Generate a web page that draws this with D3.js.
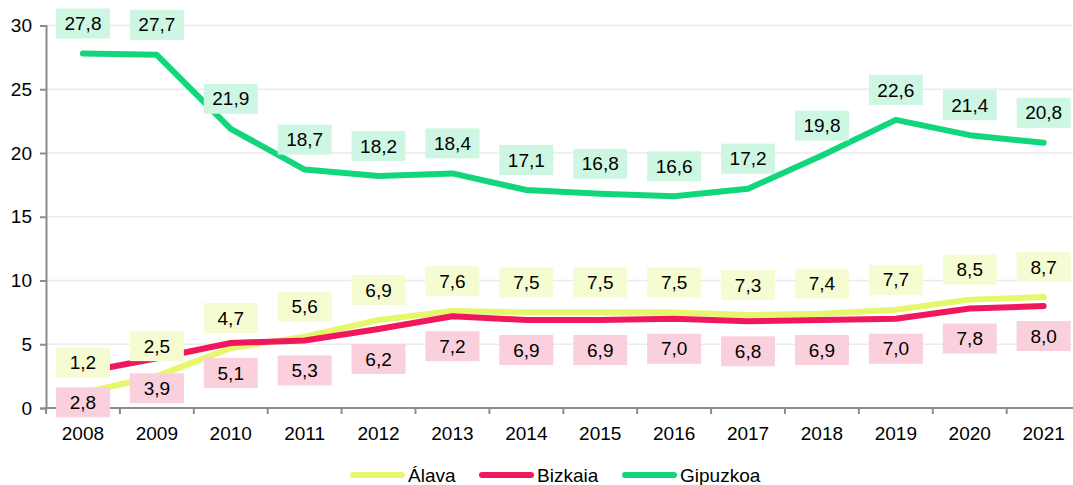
<!DOCTYPE html>
<html>
<head>
<meta charset="utf-8">
<script src="https://cdn.jsdelivr.net/npm/d3@7"></script>
<style>
  body { margin: 0; background: #fff; }
  svg { display: block; font-family: "Liberation Sans", Arial, sans-serif; }
</style>
</head>
<body>
<div id="chart"></div>
<script>
// data
var years = ["2008","2009","2010","2011","2012","2013","2014","2015","2016","2017","2018","2019","2020","2021"];
var alava = [1.2, 2.5, 4.7, 5.6, 6.9, 7.6, 7.5, 7.5, 7.5, 7.3, 7.4, 7.7, 8.5, 8.7];
var bizkaia = [2.8, 3.9, 5.1, 5.3, 6.2, 7.2, 6.9, 6.9, 7.0, 6.8, 6.9, 7.0, 7.8, 8.0];
var gipuzkoa = [27.8, 27.7, 21.9, 18.7, 18.2, 18.4, 17.1, 16.8, 16.6, 17.2, 19.8, 22.6, 21.4, 20.8];
var yTicks = [0, 5, 10, 15, 20, 25, 30];

var series = [
  {name: "Álava", values: alava, color: "#e6f76b", box: "#f5fcd2", dy: -30},
  {name: "Bizkaia", values: bizkaia, color: "#f0175b", box: "#fad0dd", dy: 30},
  {name: "Gipuzkoa", values: gipuzkoa, color: "#12d67b", box: "#cdf7e3", dy: -30}
];

var W = 1073, H = 485;
var marginLeft = 46, marginTop = 25.5, plotH = 382.5, bandW = 73.9;
var fontSize = "19px";

var svg = d3.select("#chart").append("svg")
  .attr("width", W)
  .attr("height", H);

var x = d3.scaleBand()
  .domain(years)
  .range([marginLeft, marginLeft + bandW * years.length]);

var y = d3.scaleLinear()
  .domain([0, 30])
  .range([marginTop + plotH, marginTop]);

// gridlines
svg.append("g")
  .selectAll("line")
  .data(yTicks.slice(1))
  .enter().append("line")
    .attr("x1", marginLeft)
    .attr("x2", W)
    .attr("y1", function(d) { return y(d); })
    .attr("y2", function(d) { return y(d); })
    .attr("stroke", "#ebebeb")
    .attr("stroke-width", 1.5);

// y axis
var yAxis = svg.append("g")
  .attr("transform", "translate(" + marginLeft + ",0)")
  .call(d3.axisLeft(y).tickValues(yTicks).tickSize(6).tickPadding(8).tickFormat(d3.format("d")));
yAxis.select(".domain").attr("stroke", "#8c8c8c").attr("stroke-width", 2);
yAxis.selectAll(".tick line").attr("stroke", "#8c8c8c").attr("stroke-width", 2);
yAxis.selectAll("text").style("font-size", fontSize).attr("fill", "#000");

// x axis (ticks on band boundaries)
var xAxisG = svg.append("g")
  .attr("transform", "translate(0," + y(0) + ")");
xAxisG.append("line")
  .attr("x1", marginLeft).attr("x2", W)
  .attr("stroke", "#8c8c8c").attr("stroke-width", 2);
xAxisG.selectAll(".xtick")
  .data(years)
  .enter().append("line")
    .attr("class", "xtick")
    .attr("x1", function(d) { return x(d); })
    .attr("x2", function(d) { return x(d); })
    .attr("y1", 0).attr("y2", 6)
    .attr("stroke", "#8c8c8c").attr("stroke-width", 2);
xAxisG.selectAll(".xlabel")
  .data(years)
  .enter().append("text")
    .attr("class", "xlabel")
    .attr("x", function(d) { return x(d) + x.bandwidth() / 2; })
    .attr("y", 32)
    .attr("text-anchor", "middle")
    .style("font-size", fontSize)
    .attr("fill", "#000")
    .text(function(d) { return d; });

// lines
var line = d3.line()
  .x(function(d, i) { return x(years[i]) + x.bandwidth() / 2; })
  .y(function(d) { return y(d); });

series.forEach(function(s) {
  svg.append("path")
    .datum(s.values)
    .attr("fill", "none")
    .attr("stroke", s.color)
    .attr("stroke-width", 6)
    .attr("stroke-linecap", "round")
    .attr("stroke-linejoin", "round")
    .attr("d", line);
});

// data labels
var fmt = function(v) { return d3.format(".1f")(v).replace(".", ","); };
series.forEach(function(s) {
  var g = svg.append("g").selectAll("g")
    .data(s.values)
    .enter().append("g")
      .attr("transform", function(d, i) {
        return "translate(" + (x(years[i]) + x.bandwidth() / 2) + "," + (y(d) + s.dy) + ")";
      });
  g.append("rect")
    .attr("x", -27).attr("y", -15)
    .attr("width", 54).attr("height", 30)
    .attr("fill", s.box);
  g.append("text")
    .attr("text-anchor", "middle")
    .attr("dy", "0.35em")
    .style("font-size", fontSize)
    .attr("fill", "#000")
    .text(fmt);
});

// legend
var legendX = [350, 479, 622];
var leg = svg.append("g").selectAll("g")
  .data(series)
  .enter().append("g")
    .attr("transform", function(d, i) { return "translate(" + legendX[i] + ",475)"; });
leg.append("line")
  .attr("x1", 3).attr("x2", 52)
  .attr("stroke", function(d) { return d.color; })
  .attr("stroke-width", 6)
  .attr("stroke-linecap", "round");
leg.append("text")
  .attr("x", 58)
  .attr("dy", "0.35em")
  .style("font-size", fontSize)
  .attr("fill", "#000")
  .text(function(d) { return d.name; });
</script>
</body>
</html>
